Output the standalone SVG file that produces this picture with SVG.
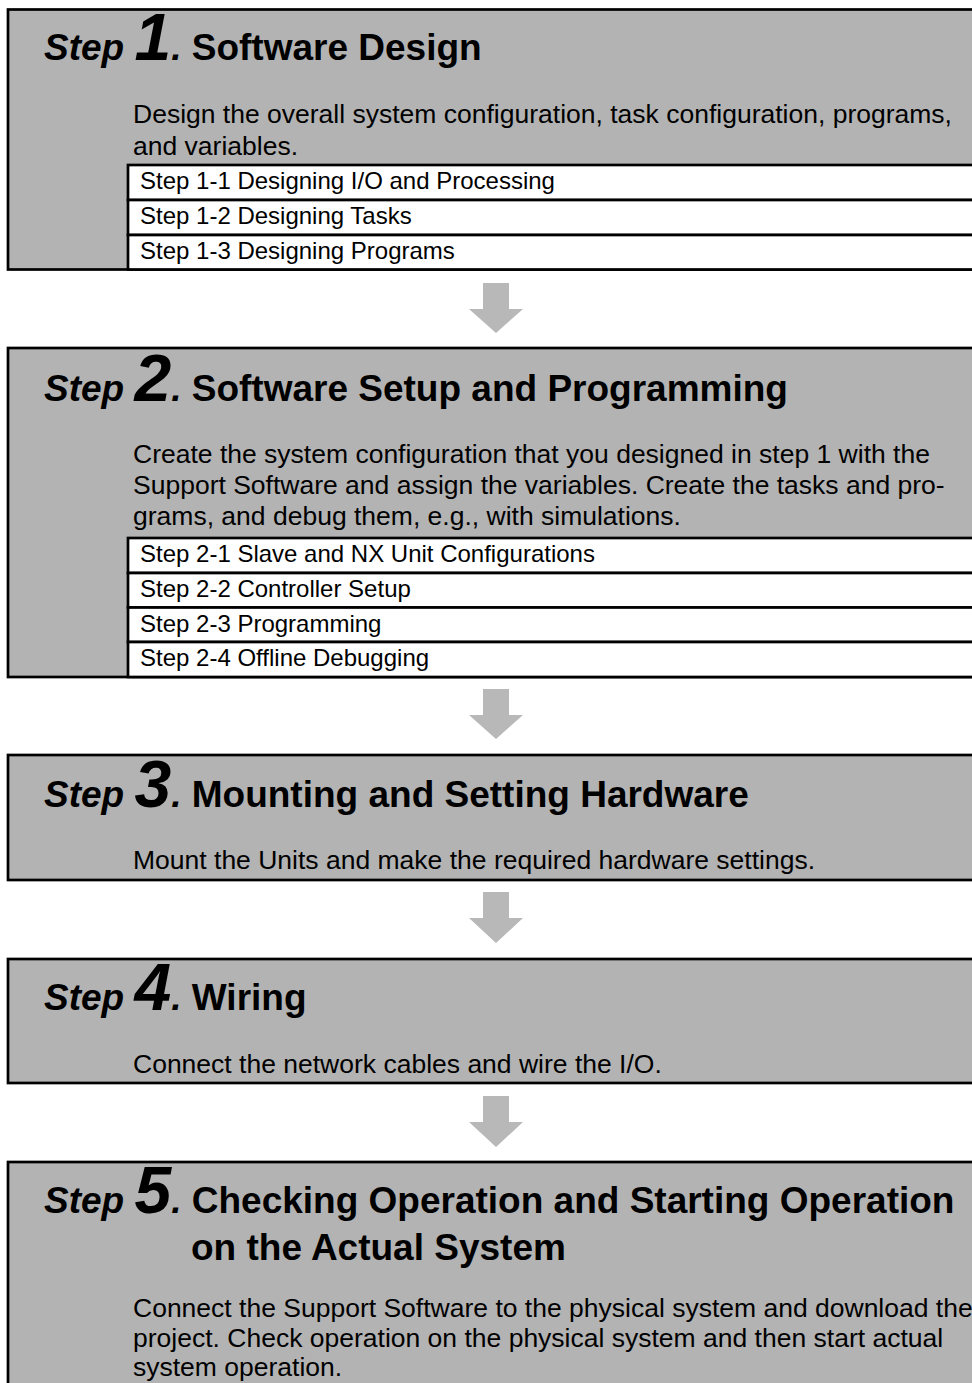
<svg xmlns="http://www.w3.org/2000/svg" width="972" height="1383" viewBox="0 0 972 1383">
<style>
.box{fill:#b3b3b3;stroke:#000;stroke-width:2.7}
.row{fill:#fff;stroke:#000;stroke-width:2.7}
.arrow{fill:#b8b8b8}
text{font-family:"Liberation Sans",Arial,sans-serif;fill:#000}
.step{font-size:37px;font-weight:bold;font-style:italic}
.num{font-size:66px;font-weight:bold;font-style:italic}
.title{font-size:37px;font-weight:bold}
.body{font-size:26.5px}
.rowt{font-size:24px}
</style>
<rect width="972" height="1383" fill="#fff"/>
<g id="connectors">
<polygon class="arrow" points="483,283 509,283 509,309 523,309 496,333 469,309 483,309"/>
<polygon class="arrow" points="483,689 509,689 509,715 523,715 496,739 469,715 483,715"/>
<polygon class="arrow" points="483,892 509,892 509,918 523,918 496,943 469,918 483,918"/>
<polygon class="arrow" points="483,1096 509,1096 509,1122 523,1122 496,1147 469,1122 483,1122"/>
</g>
<g id="step1">
<rect class="box" x="8" y="9.5" width="980" height="260"/>
<text x="44" y="60"><tspan class="step">Step </tspan><tspan class="num">1</tspan><tspan class="step">.</tspan><tspan class="title"> Software Design</tspan></text>
<text class="body" x="133" y="123">Design the overall system configuration, task configuration, programs,</text>
<text class="body" x="133" y="155">and variables.</text>
<rect class="row" x="128" y="165" width="860" height="35"/>
<rect class="row" x="128" y="200" width="860" height="35"/>
<rect class="row" x="128" y="235" width="860" height="34.5"/>
<text class="rowt" x="140" y="189">Step 1-1 Designing I/O and Processing</text>
<text class="rowt" x="140" y="224">Step 1-2 Designing Tasks</text>
<text class="rowt" x="140" y="259">Step 1-3 Designing Programs</text>
</g>
<g id="step2">
<rect class="box" x="8" y="348" width="980" height="329"/>
<text x="44" y="401"><tspan class="step">Step </tspan><tspan class="num">2</tspan><tspan class="step">.</tspan><tspan class="title"> Software Setup and Programming</tspan></text>
<text class="body" x="133" y="463">Create the system configuration that you designed in step 1 with the</text>
<text class="body" x="133" y="494">Support Software and assign the variables. Create the tasks and pro-</text>
<text class="body" x="133" y="525">grams, and debug them, e.g., with simulations.</text>
<rect class="row" x="128" y="538" width="860" height="35"/>
<rect class="row" x="128" y="573" width="860" height="34.5"/>
<rect class="row" x="128" y="607.5" width="860" height="34.5"/>
<rect class="row" x="128" y="642" width="860" height="35"/>
<text class="rowt" x="140" y="562">Step 2-1 Slave and NX Unit Configurations</text>
<text class="rowt" x="140" y="597">Step 2-2 Controller Setup</text>
<text class="rowt" x="140" y="631.5">Step 2-3 Programming</text>
<text class="rowt" x="140" y="666">Step 2-4 Offline Debugging</text>
</g>
<g id="step3">
<rect class="box" x="8" y="755" width="980" height="125"/>
<text x="44" y="807"><tspan class="step">Step </tspan><tspan class="num">3</tspan><tspan class="step">.</tspan><tspan class="title"> Mounting and Setting Hardware</tspan></text>
<text class="body" x="133" y="869">Mount the Units and make the required hardware settings.</text>
</g>
<g id="step4">
<rect class="box" x="8" y="959" width="980" height="124"/>
<text x="44" y="1010"><tspan class="step">Step </tspan><tspan class="num">4</tspan><tspan class="step">.</tspan><tspan class="title"> Wiring</tspan></text>
<text class="body" x="133" y="1073">Connect the network cables and wire the I/O.</text>
</g>
<g id="step5">
<rect class="box" x="8" y="1162" width="980" height="240"/>
<text x="44" y="1213"><tspan class="step">Step </tspan><tspan class="num">5</tspan><tspan class="step">.</tspan><tspan class="title"> Checking Operation and Starting Operation</tspan></text>
<text class="title" x="191" y="1260">on the Actual System</text>
<text class="body" x="133" y="1317">Connect the Support Software to the physical system and download the</text>
<text class="body" x="133" y="1347">project. Check operation on the physical system and then start actual</text>
<text class="body" x="133" y="1376">system operation.</text>
</g>
</svg>
